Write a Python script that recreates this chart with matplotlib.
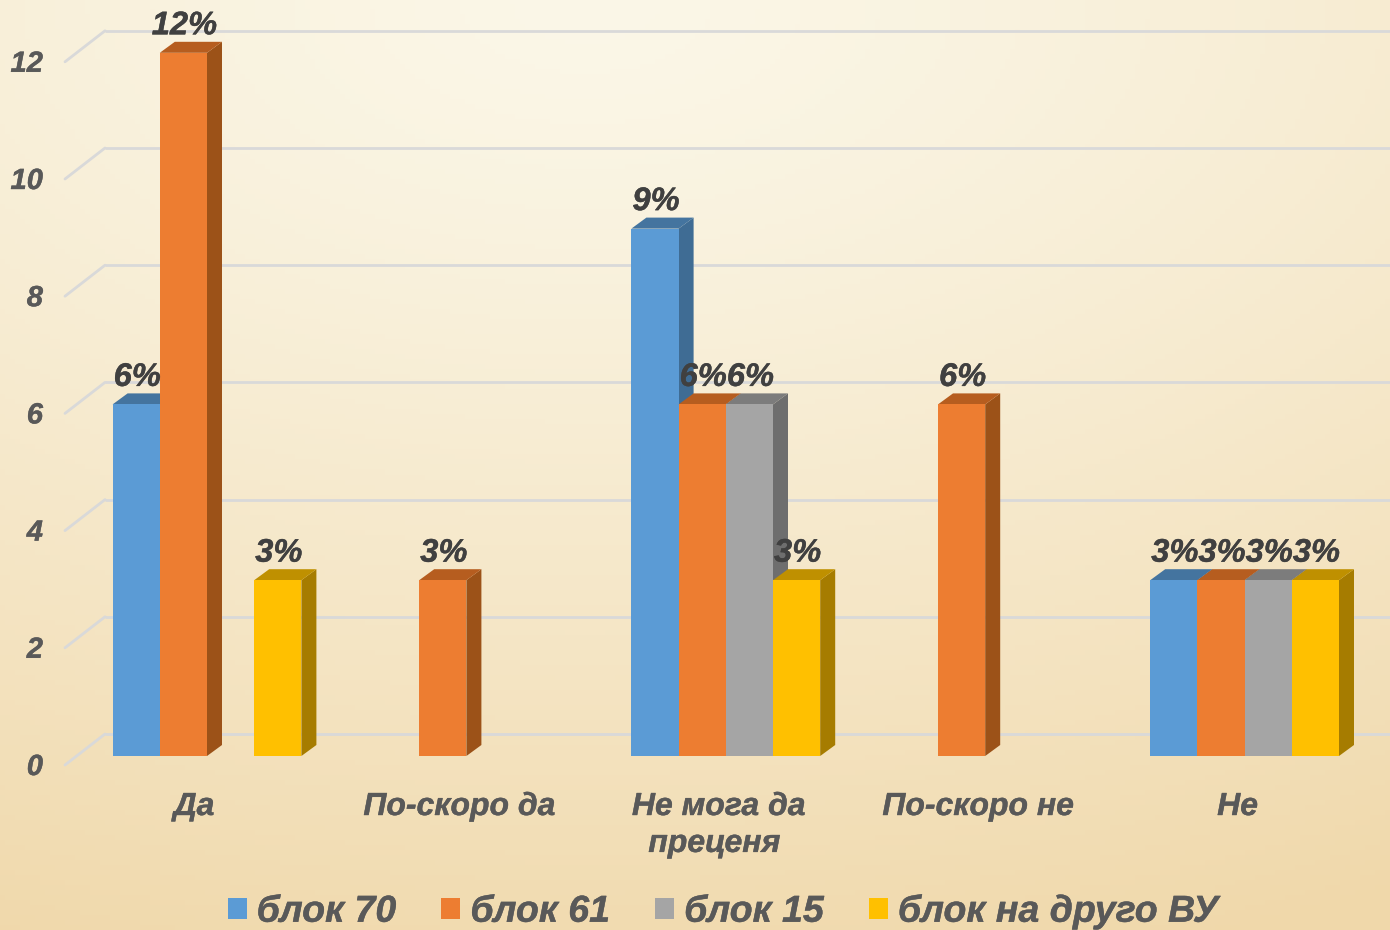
import numpy as np
import matplotlib
matplotlib.use("Agg")
import matplotlib.pyplot as plt
import matplotlib.patheffects as pe
from matplotlib.patches import Polygon
from matplotlib.transforms import Affine2D

categories = ["Да", "По-скоро да", "Не мога да\nпреценя ", "По-скоро не", "Не"]
blok_70 = [6, 0, 9, 0, 3]
blok_61 = [12, 3, 6, 6, 3]
blok_15 = [0, 0, 6, 0, 3]
blok_drugo = [3, 0, 3, 0, 3]
series_names = ["блок 70", "блок 61", "блок 15", "блок на друго ВУ"]
y_ticks = [0, 2, 4, 6, 8, 10, 12]

series = [blok_70, blok_61, blok_15, blok_drugo]
front_colors = ["#5B9BD5", "#ED7D31", "#A5A5A5", "#FFC000"]
top_colors = ["#44749F", "#B65D1F", "#7C7C7C", "#BF9000"]
side_colors = ["#3F6C94", "#9C5218", "#6E6E6E", "#A67C00"]

plt.rcParams["font.family"] = ["Liberation Sans", "DejaVu Sans"]
plt.rcParams["font.weight"] = "bold"
plt.rcParams["font.style"] = "italic"

fig = plt.figure(figsize=(13.9, 9.3), dpi=100)
ax = fig.add_axes([0, 0, 1, 1])

# pixel scale of the picture: 259.4 px per category, 58.6 px per unit
ax.set_xlim(-207 / 259.4, (1390 - 207) / 259.4)
ax.set_ylim(-174 / 58.6, 756 / 58.6)
ax.axis("off")

# background gradient, light at the top and tan at the bottom
h, w = 186, 278
yy, xx = np.mgrid[0:h, 0:w]
dist = np.sqrt(((xx / w - 0.42) * 0.85) ** 2 + (yy / h) ** 2) / 1.08
dist = np.clip(dist, 0, 1)[..., None]
light = np.array([251, 247, 232]) / 255
dark = np.array([240, 216, 170]) / 255
bg = light + (dark - light) * dist ** 1.3
ax.imshow(bg, extent=[*ax.get_xlim(), *ax.get_ylim()], origin="upper", aspect="auto", zorder=0)

# pixel offsets used for the fake 3D look
depth = Affine2D().translate(15, 11)
back_wall = ax.transData + Affine2D().translate(0, 22)
front_edge = ax.transData + Affine2D().translate(0, -9)
x_left = -142 / 259.4
x_wall = -102 / 259.4
thick = [pe.withStroke(linewidth=0.3, foreground="#595959")]
thick_dark = [pe.withStroke(linewidth=0.3, foreground="#404040")]

# gridlines: back wall plus the short diagonal on the left
for t in y_ticks:
    ax.plot([x_wall, ax.get_xlim()[1]], [t, t], color="#D9D9D9", lw=2.0,
            transform=back_wall, zorder=1, solid_capstyle="butt")
    ax.annotate("", xy=(x_left, t), xytext=(x_wall, t), xycoords=front_edge, textcoords=back_wall,
                arrowprops=dict(arrowstyle="-", color="#D9D9D9", lw=2.0, shrinkA=0, shrinkB=0), zorder=1)
    ax.annotate(str(t), xy=(x_left, t), xycoords=front_edge, xytext=(-22, -2),
                textcoords="offset pixels", ha="right", va="center", fontsize=21, color="#595959",
                path_effects=thick)

# bars
bar_w = 47.2 / 259.4
z = 2
for s, values in enumerate(series):
    for i, v in enumerate(values):
        if v == 0:
            continue
        x0 = i + (s - 2) * bar_w
        x1 = x0 + bar_w
        # side and top faces are shifted copies of the front corners
        side_pts = ax.transData.transform([(x1, 0), (x1, v)])
        top_pts = ax.transData.transform([(x0, v), (x1, v)])
        ax.add_patch(Polygon([side_pts[0], side_pts[1], depth.transform(side_pts[1]), depth.transform(side_pts[0])],
                             closed=True, transform=None, facecolor=side_colors[s], edgecolor="none", zorder=z))
        ax.add_patch(Polygon([top_pts[0], top_pts[1], depth.transform(top_pts[1]), depth.transform(top_pts[0])],
                             closed=True, transform=None, facecolor=top_colors[s], edgecolor="none", zorder=z))
    x_pos = np.arange(len(categories)) + (s - 1.5) * bar_w
    ax.bar(x_pos, values, width=bar_w, color=front_colors[s], label=series_names[s], zorder=z + 0.5)
    z += 1

# data labels on top
for s, values in enumerate(series):
    for i, v in enumerate(values):
        if v == 0:
            continue
        ax.annotate(f"{v}%", xy=(i + (s - 1.5) * bar_w, v), xytext=(1, 27), textcoords="offset pixels",
                    ha="center", va="center", fontsize=23.5, color="#404040", zorder=20, path_effects=thick_dark)

# category labels
label_shift = [-13, -7, -7, -7, -7]
for i, name in enumerate(categories):
    ax.annotate(name, xy=(i, 0), xytext=(label_shift[i], -36), textcoords="offset pixels",
                ha="center", va="top", fontsize=23, color="#595959", linespacing=1.3, path_effects=thick)

leg = ax.legend(loc="lower center", bbox_to_anchor=(0.52, -0.036), ncol=4, frameon=False, fontsize=27,
                labelcolor="#595959", handlelength=0.507, handleheight=0.507, handletextpad=0.27,
                columnspacing=1.2)
for txt in leg.get_texts():
    txt.set_path_effects(thick)

fig.savefig("out.png", dpi=100)
